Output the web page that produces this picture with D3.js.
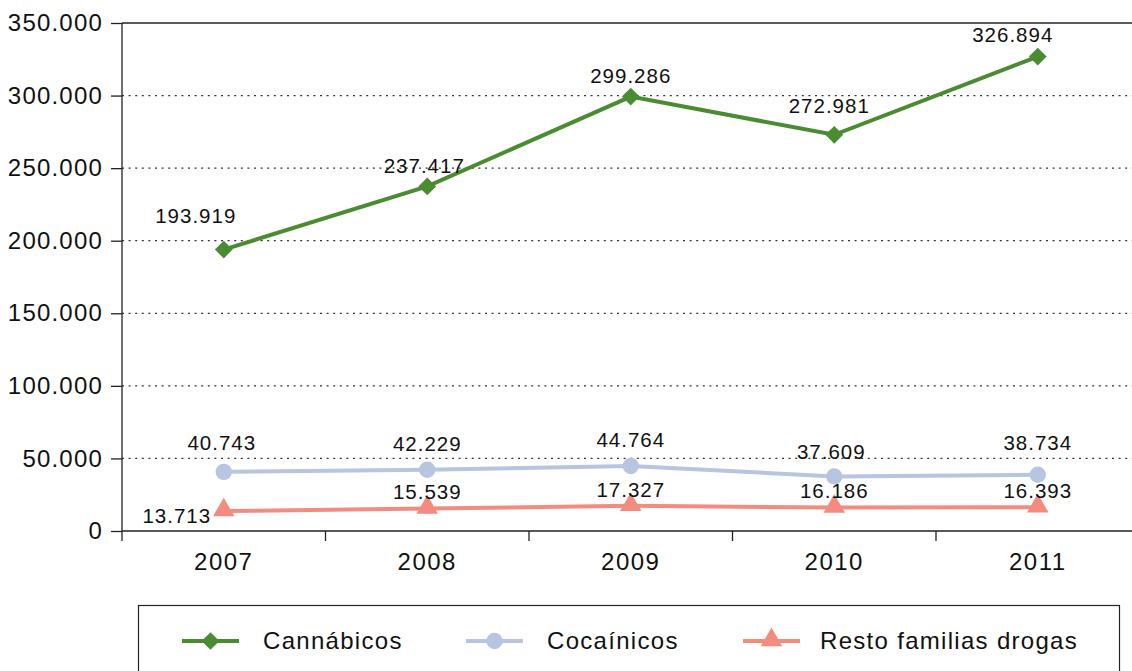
<!DOCTYPE html>
<html><head><meta charset="utf-8">
<script src="https://cdn.jsdelivr.net/npm/d3@7"></script>
<style>
body{margin:0;background:#fff;}
svg{display:block;font-family:"Liberation Sans",Arial,Helvetica,sans-serif;}
</style></head>
<body>
<svg id="chart" width="1132" height="671"></svg>
<script>
const years = ["2007","2008","2009","2010","2011"];
const seriesNames = ["Cannábicos","Cocaínicos","Resto familias drogas"];
const cannabicos = [193919,237417,299286,272981,326894];
const cocainicos = [40743,42229,44764,37609,38734];
const resto = [13713,15539,17327,16186,16393];
const yTicks = [0,50000,100000,150000,200000,250000,300000,350000];

// label offsets (styling)
const labelOffsets = [
  [[-28,-27],[-3,-13],[0,-14],[-5,-22],[-25,-15]],
  [[-2,-22],[0,-19],[0,-19],[-3,-17],[0,-25]],
  [[-47,12],[0,-9],[0,-9],[0,-9.5],[0,-9]]
];
const colors = ["#4a8c31","#b7c5e1","#f38b7f"];
const markers = [d3.symbolDiamond2 || d3.symbolDiamond, d3.symbolCircle, d3.symbolTriangle];

const svg = d3.select("#chart");
const pLeft = 122, pRight = 1139.5, pTop = 23, pBottom = 531;
const x = d3.scaleBand().domain(years).range([pLeft,pRight]).padding(0);
const y = d3.scaleLinear().domain([0,350000]).range([pBottom,pTop]);
const fmt = v => d3.format(",")(v).replace(/,/g,".");
const cx = d => x(d) + x.bandwidth()/2;

// gridlines
svg.append("g").selectAll("line").data(yTicks.filter(v=>v>0&&v<350000)).join("line")
  .attr("x1",pLeft).attr("x2",1132).attr("y1",d=>y(d)).attr("y2",d=>y(d))
  .attr("stroke","#333").attr("stroke-width",1.2).attr("stroke-dasharray","2,4.6");
svg.append("line").attr("x1",pLeft).attr("x2",1132).attr("y1",y(350000)).attr("y2",y(350000))
  .attr("stroke","#222").attr("stroke-width",1.3);

// y axis
const yAxis = svg.append("g").attr("transform",`translate(${pLeft},0)`)
  .call(d3.axisLeft(y).tickValues(yTicks).tickSize(11).tickPadding(8).tickFormat(fmt));
yAxis.select(".domain").remove();
yAxis.selectAll(".tick line").attr("stroke","#222").attr("stroke-width",1.3);
yAxis.selectAll(".tick text").attr("font-size",24).attr("fill","#111")
  .attr("font-family","Liberation Sans, Arial, sans-serif").style("letter-spacing","1.2px");
svg.append("line").attr("x1",pLeft).attr("x2",pLeft).attr("y1",pTop).attr("y2",pBottom+10)
  .attr("stroke","#222").attr("stroke-width",1.3);

// x axis
svg.append("line").attr("x1",pLeft).attr("x2",1132).attr("y1",pBottom).attr("y2",pBottom)
  .attr("stroke","#222").attr("stroke-width",1.6);
svg.append("g").selectAll("line").data(years.slice(1)).join("line")
  .attr("x1",d=>x(d)).attr("x2",d=>x(d)).attr("y1",pBottom).attr("y2",pBottom+10)
  .attr("stroke","#222").attr("stroke-width",1.3);
svg.append("g").selectAll("text").data(years).join("text")
  .attr("x",d=>cx(d)).attr("y",570).attr("text-anchor","middle")
  .attr("font-size",24).attr("fill","#111").style("letter-spacing","1.5px").text(d=>d);

// series
const allSeries = [cannabicos,cocainicos,resto];
const line = d3.line().x((d,i)=>cx(years[i])).y(d=>y(d));
allSeries.forEach((vals,si)=>{
  svg.append("path").datum(vals).attr("d",line).attr("fill","none")
    .attr("stroke",colors[si]).attr("stroke-width",4);
  const sym = d3.symbol().type(markers[si]).size(si===0?200:(si===1?210:200));
  svg.append("g").selectAll("path").data(vals).join("path")
    .attr("d",sym).attr("fill",colors[si])
    .attr("transform",(d,i)=>`translate(${cx(years[i])},${y(d) + (si===2?-1:0)})`);
  svg.append("g").selectAll("text").data(vals).join("text")
    .attr("x",(d,i)=>cx(years[i])+labelOffsets[si][i][0])
    .attr("y",(d,i)=>y(d)+labelOffsets[si][i][1])
    .attr("text-anchor","middle").attr("font-size",20.5).attr("fill","#111")
    .style("letter-spacing","1px").text(d=>fmt(d));
});

// legend
svg.append("rect").attr("x",138.5).attr("y",605.5).attr("width",981).attr("height",80)
  .attr("fill","none").attr("stroke","#222").attr("stroke-width",1.2);
const legX = [182,466,743];
const legTextX = [263,547,820];
seriesNames.forEach((n,si)=>{
  const g = svg.append("g");
  g.append("line").attr("x1",legX[si]).attr("x2",legX[si]+57).attr("y1",641).attr("y2",641)
    .attr("stroke",colors[si]).attr("stroke-width",4);
  g.append("path").attr("d",d3.symbol().type(markers[si]).size(si===1?210:200))
    .attr("fill",colors[si]).attr("transform",`translate(${legX[si]+28.5},${641+(si===2?-1:0)})`);
  g.append("text").attr("x",legTextX[si]).attr("y",649).attr("font-size",24)
    .attr("fill","#111").style("letter-spacing","1.3px").text(n);
});
</script>
</body></html>
